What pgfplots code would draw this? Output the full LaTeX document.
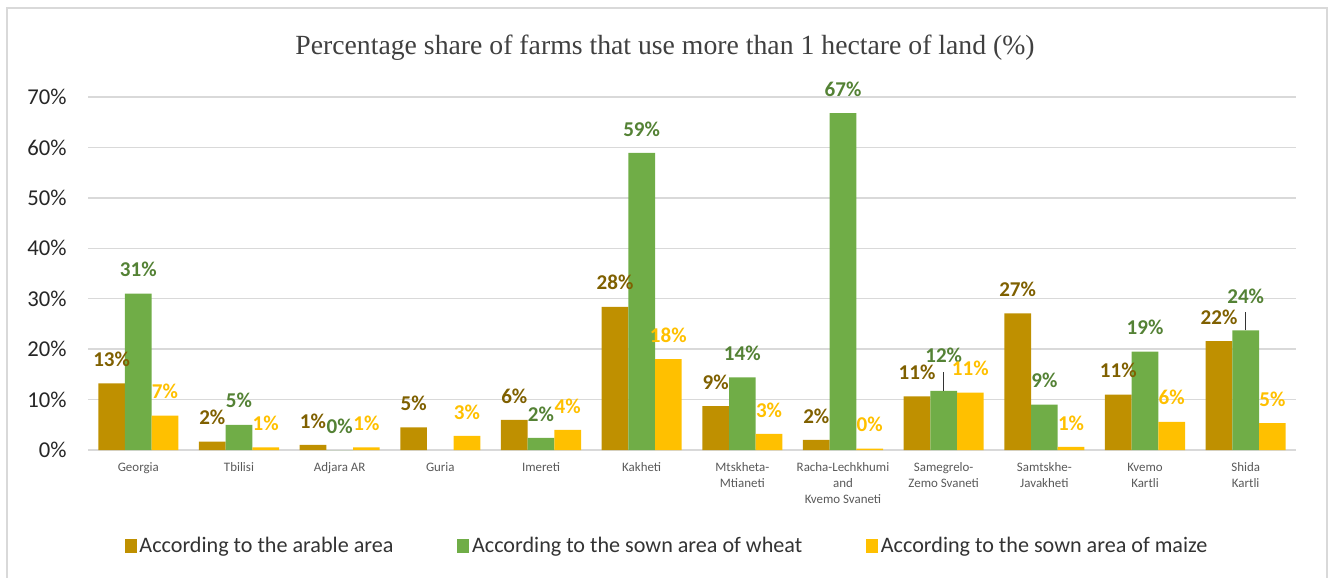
\documentclass[border=0pt]{standalone}
\usepackage{pgfplots}
\pgfplotsset{compat=1.18}
\usepackage{pgfplotstable}
\usepackage{fontspec}
\setmainfont{Carlito}
\newfontfamily\titlefont{Liberation Serif}
\definecolor{cA}{HTML}{BF9000}
\definecolor{cAl}{HTML}{7F6000}
\definecolor{cB}{HTML}{70AD47}
\definecolor{cBl}{HTML}{548235}
\definecolor{cC}{HTML}{FFC000}
\definecolor{cCl}{HTML}{FFC000}
\definecolor{gridc}{HTML}{D9D9D9}
\definecolor{txt}{HTML}{595959}

% x value label offset(pt)
\pgfplotstableread{
x y lab off
0 13.2 13 0
1 1.65 2 0
2 1.0 1 0
3 4.5 5 0
4 5.95 6 0
5 28.4 28 0
6 8.7 9 0
7 2.0 2 0
8 10.65 11 0
9 27.1 27 0
10 11.0 11 0
11 21.6 22 0
}\arable
\pgfplotstableread{
x y lab off
0 31.0 31 0
1 5.0 5 0
2 0.0 0 0
4 2.4 2 0
5 58.9 59 0
6 14.4 14 0
7 66.8 67 0
8 11.7 12 9
9 9.0 9 0
10 19.5 19 0
11 23.7 24 7.5
}\wheat
\pgfplotstableread{
x y lab off
0 6.8 7 0
1 0.5 1 0
2 0.5 1 0
3 2.8 3 0
4 4.0 4 0
5 18.0 18 0
6 3.2 3 0
7 0.25 0 0
8 11.4 11 0
9 0.6 1 0
10 5.6 6 0
11 5.35 5 0
}\maize

\begin{document}
\begin{tikzpicture}
\useasboundingbox (0,0) rectangle (998.25pt,433.5pt);
% outer frame
\draw[gridc, line width=1.2pt] (5.25pt,-5pt) -- (5.25pt,427.5pt) -- (995.25pt,427.5pt) -- (995.25pt,-5pt);
\node[font=\titlefont\fontsize{20.8}{24}\selectfont, text=black!75, anchor=center] at (498.75pt,397.5pt) {Percentage share of farms that use more than 1 hectare of land (\%)};
\begin{axis}[
  at={(66pt,96pt)}, anchor=south west,
  scale only axis, width=906pt, height=264.75pt,
  xmin=-0.5, xmax=11.5, ymin=0, ymax=70,
  axis line style={draw=none},
  major tick length=0pt,
  ymajorgrids, grid style={draw=gridc, line width=1.1pt},
  ytick={0,10,...,70},
  yticklabel={\pgfmathprintnumber{\tick}\%},
  yticklabel style={font=\fontsize{17}{19}\selectfont, text=black!85, anchor=east, xshift=-12.5pt},
  /pgf/number format/assume math mode=true,
  xtick={0,...,11},
  xticklabels={Georgia,Tbilisi,Adjara AR,Guria,Imereti,Kakheti,{Mtskheta-\\Mtianeti},{Racha-Lechkhumi\\and\\Kvemo Svaneti},{Samegrelo-\\Zemo Svaneti},{Samtskhe-\\Javakheti},{Kvemo\\Kartli},{Shida\\Kartli}},
  xticklabel style={font=\fontsize{9.7}{12}\selectfont, text=txt, align=center, anchor=north, yshift=-6pt},
  ybar=0pt, bar width=0.265,
  point meta=explicit symbolic,
  nodes near coords={\pgfplotspointmeta\%},
  visualization depends on={\thisrow{off} \as \myoff},
  nodes near coords style={anchor=center, yshift=18pt+\myoff pt, font=\bfseries\fontsize{15.8}{18}\selectfont},
  legend columns=3,
  legend style={at={(rel axis cs:0.5,0)}, anchor=center, xshift=-18.4pt, yshift=-72pt, draw=none, fill=none, font=\fontsize{16.6}{19}\selectfont, text=black!80, /tikz/every even column/.append style={column sep=46pt}},
  legend image code/.code={\fill[#1] (0pt,-5.5pt) rectangle (9pt,5.5pt);},
]
\addplot[fill=cA, draw=none, bar shift=-0.265, nodes near coords style={text=cAl}] table[x=x,y=y,meta=lab]{\arable};
\addplot[fill=cB, draw=none, bar shift=0, nodes near coords style={text=cBl}] table[x=x,y=y,meta=lab]{\wheat};
\addplot[fill=cC, draw=none, bar shift=0.265, nodes near coords style={text=cCl}] table[x=x,y=y,meta=lab]{\maize};
\legend{According to the arable area, According to the sown area of wheat, According to the sown area of maize}
\draw[black!80, line width=0.8pt] (axis cs:8,11.7) -- (axis cs:8,15.5);
\draw[black!80, line width=0.8pt] (axis cs:11,23.7) -- (axis cs:11,27.4);
\end{axis}
\end{tikzpicture}
\end{document}
